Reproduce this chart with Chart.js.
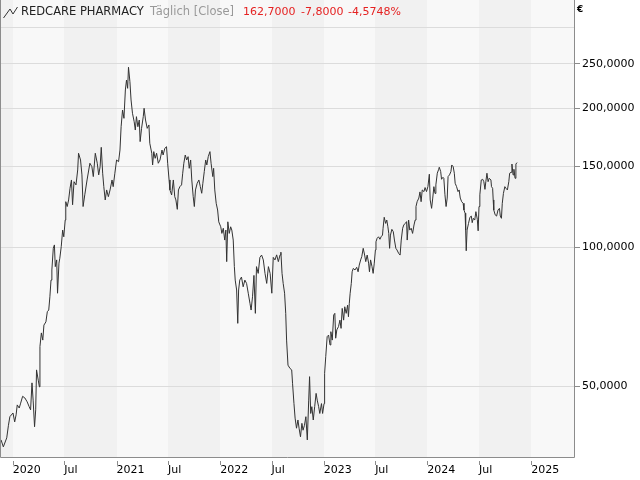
<!DOCTYPE html>
<html>
<head>
<meta charset="utf-8">
<script src="https://cdn.jsdelivr.net/npm/chart.js@4.4.1/dist/chart.umd.min.js"></script>
<style>
  body { margin: 0; background: #fff; }
  canvas { display: block; }
</style>
</head>
<body>
<canvas id="myChart" width="640" height="480"></canvas>
<script>
// daily closes (EUR)
const dates = [
  '2019-11-21','2019-11-29','2019-12-11','2019-12-17','2019-12-22','2020-01-02','2020-01-08','2020-01-13',
  '2020-01-17','2020-01-24','2020-01-29','2020-02-05','2020-02-13','2020-02-21','2020-02-28','2020-03-04',
  '2020-03-09','2020-03-13','2020-03-18','2020-03-22','2020-03-25','2020-03-31','2020-04-04','2020-04-06',
  '2020-04-11','2020-04-16','2020-04-20','2020-04-27','2020-05-02','2020-05-07','2020-05-11','2020-05-15',
  '2020-05-18','2020-05-23','2020-05-27','2020-05-30','2020-06-04','2020-06-07','2020-06-12','2020-06-15',
  '2020-06-20','2020-06-25','2020-06-29','2020-07-04','2020-07-06','2020-07-11','2020-07-16','2020-07-21',
  '2020-07-26','2020-07-30','2020-08-04','2020-08-11','2020-08-17','2020-08-20','2020-08-27','2020-09-01',
  '2020-09-05','2020-09-11','2020-09-19','2020-09-29','2020-10-06','2020-10-11','2020-10-18','2020-10-25',
  '2020-10-30','2020-11-04','2020-11-08','2020-11-13','2020-11-17','2020-11-22','2020-11-27','2020-12-03',
  '2020-12-09','2020-12-16','2020-12-20','2020-12-26','2021-01-01','2021-01-08','2021-01-13','2021-01-17',
  '2021-01-22','2021-01-27','2021-02-01','2021-02-05','2021-02-09','2021-02-12','2021-02-17','2021-02-21',
  '2021-02-26','2021-03-04','2021-03-08','2021-03-12','2021-03-17','2021-03-22','2021-03-25','2021-03-30',
  '2021-04-05','2021-04-08','2021-04-13','2021-04-19','2021-04-25','2021-04-28','2021-05-05','2021-05-08',
  '2021-05-12','2021-05-17','2021-05-22','2021-05-28','2021-06-03','2021-06-10','2021-06-14','2021-06-20',
  '2021-06-26','2021-06-30','2021-07-05','2021-07-08','2021-07-14','2021-07-20','2021-07-25','2021-07-29',
  '2021-08-03','2021-08-07','2021-08-12','2021-08-18','2021-08-22','2021-08-26','2021-08-31','2021-09-05',
  '2021-09-10','2021-09-14','2021-09-19','2021-09-23','2021-09-28','2021-10-02','2021-10-06','2021-10-12',
  '2021-10-18','2021-10-23','2021-10-28','2021-11-01','2021-11-06','2021-11-11','2021-11-15','2021-11-20',
  '2021-11-26','2021-11-30','2021-12-06','2021-12-09','2021-12-13','2021-12-18','2021-12-23','2021-12-27',
  '2022-01-03','2022-01-07','2022-01-12','2022-01-17','2022-01-21','2022-01-24','2022-01-28','2022-02-02',
  '2022-02-07','2022-02-11','2022-02-16','2022-02-20','2022-02-23','2022-02-28','2022-03-04','2022-03-07',
  '2022-03-11','2022-03-17','2022-03-23','2022-03-29','2022-04-04','2022-04-10','2022-04-16','2022-04-20',
  '2022-04-25','2022-04-30','2022-05-05','2022-05-09','2022-05-15','2022-05-21','2022-05-27','2022-06-02',
  '2022-06-08','2022-06-14','2022-06-20','2022-06-26','2022-07-02','2022-07-07','2022-07-13','2022-07-19',
  '2022-07-25','2022-07-31','2022-08-03','2022-08-07','2022-08-11','2022-08-16','2022-08-20','2022-08-23',
  '2022-08-28','2022-09-04','2022-09-10','2022-09-13','2022-09-18','2022-09-22','2022-09-27','2022-10-02',
  '2022-10-06','2022-10-11','2022-10-16','2022-10-20','2022-10-25','2022-10-30','2022-11-04','2022-11-09',
  '2022-11-12','2022-11-16','2022-11-20','2022-11-25','2022-11-30','2022-12-05','2022-12-09','2022-12-14',
  '2022-12-18','2022-12-24','2022-12-28','2023-01-02','2023-01-04','2023-01-08','2023-01-13','2023-01-18',
  '2023-01-23','2023-01-26','2023-01-31','2023-02-05','2023-02-09','2023-02-12','2023-02-16','2023-02-22',
  '2023-02-27','2023-03-03','2023-03-07','2023-03-12','2023-03-16','2023-03-21','2023-03-26','2023-03-29',
  '2023-04-01','2023-04-04','2023-04-08','2023-04-11','2023-04-15','2023-04-21','2023-04-27','2023-05-02',
  '2023-05-06','2023-05-11','2023-05-15','2023-05-20','2023-05-25','2023-05-29','2023-06-03','2023-06-08',
  '2023-06-11','2023-06-15','2023-06-20','2023-06-24','2023-06-28','2023-07-02','2023-07-04','2023-07-08',
  '2023-07-13','2023-07-18','2023-07-22','2023-07-27','2023-07-29','2023-08-02','2023-08-07','2023-08-11',
  '2023-08-15','2023-08-18','2023-08-21','2023-08-24','2023-08-29','2023-09-03','2023-09-07','2023-09-12',
  '2023-09-16','2023-09-22','2023-09-27','2023-10-01','2023-10-06','2023-10-10','2023-10-15','2023-10-20',
  '2023-10-22','2023-10-27','2023-10-31','2023-11-05','2023-11-10','2023-11-15','2023-11-19','2023-11-22',
  '2023-11-26','2023-12-02','2023-12-06','2023-12-10','2023-12-14','2023-12-20','2023-12-24','2023-12-29',
  '2024-01-03','2024-01-08','2024-01-11','2024-01-16','2024-01-20','2024-01-24','2024-01-28','2024-01-31',
  '2024-02-05','2024-02-10','2024-02-12','2024-02-17','2024-02-20','2024-02-25','2024-02-28','2024-03-03',
  '2024-03-07','2024-03-11','2024-03-14','2024-03-19','2024-03-24','2024-03-27','2024-04-01','2024-04-05',
  '2024-04-08','2024-04-13','2024-04-18','2024-04-22','2024-04-26','2024-05-01','2024-05-06','2024-05-09',
  '2024-05-13','2024-05-15','2024-05-17','2024-05-20','2024-05-25','2024-05-30','2024-06-04','2024-06-07',
  '2024-06-11','2024-06-16','2024-06-20','2024-06-25','2024-06-28','2024-07-01','2024-07-04','2024-07-09',
  '2024-07-14','2024-07-18','2024-07-22','2024-07-25','2024-07-29','2024-08-02','2024-08-06','2024-08-12',
  '2024-08-14','2024-08-18','2024-08-20','2024-08-22','2024-08-27','2024-09-01','2024-09-06','2024-09-11',
  '2024-09-14','2024-09-18','2024-09-21','2024-09-25','2024-09-30','2024-10-04','2024-10-09','2024-10-14',
  '2024-10-17','2024-10-22','2024-10-25','2024-10-29','2024-11-01','2024-11-05','2024-11-08','2024-11-12'
];
const closes = [
  38.2, 36.9, 38.6, 41.1, 42.9, 43.7, 41.8, 43.3,
  45.5, 44.8, 45.9, 47.5, 47.1, 46.2, 45.1, 44.4,
  50.8, 46.6, 40.8, 44.4, 54.2, 51.5, 49.8, 60.9,
  65.2, 62.9, 67.8, 68.9, 72.5, 73.1, 78.1, 84.9,
  89.3, 99.5, 101.2, 90.8, 93.9, 79.5, 92.4, 94.7,
  100.3, 109.0, 105.4, 114.6, 125.6, 122.6, 126.7, 134.3,
  140.0, 123.7, 138.8, 136.6, 147.2, 160.0, 154.7, 143.6,
  122.6, 130.0, 140.0, 152.2, 149.6, 142.4, 160.0, 152.2,
  143.6, 149.6, 164.8, 144.8, 135.4, 126.7, 133.2, 128.8,
  133.2, 140.0, 135.4, 144.8, 154.7, 153.4, 162.6, 182.7,
  198.6, 190.5, 219.5, 230.7, 221.3, 245.9, 228.8, 208.8,
  195.4, 187.3, 179.7, 192.1, 182.7, 188.9, 169.6, 181.2,
  192.1, 200.3, 188.9, 181.2, 184.3, 168.2, 160.0, 150.9,
  161.3, 156.0, 160.0, 152.2, 154.7, 162.6, 158.6, 164.0,
  165.3, 152.2, 140.0, 133.2, 129.9, 140.0, 128.8, 126.7,
  120.9, 133.2, 135.4, 136.6, 144.8, 152.2, 158.6, 154.7,
  157.3, 148.4, 154.7, 140.0, 128.8, 122.6, 133.2, 137.7,
  140.0, 135.4, 131.0, 137.7, 146.0, 154.7, 150.9, 157.3,
  161.3, 152.2, 142.4, 148.4, 133.2, 124.6, 120.5, 113.6,
  110.8, 107.2, 110.0, 103.7, 109.0, 93.1, 113.6, 107.2,
  110.8, 109.0, 103.7, 90.8, 84.9, 80.8, 68.4, 80.8,
  84.9, 86.2, 82.1, 84.9, 83.5, 79.5, 75.6, 73.1,
  78.1, 86.9, 71.9, 90.8, 87.8, 95.1, 96.2, 93.9,
  87.8, 83.5, 90.8, 87.8, 79.5, 95.1, 93.9, 96.3,
  93.1, 96.3, 97.6, 87.8, 83.5, 79.5, 71.9, 62.9,
  55.5, 54.6, 54.2, 50.7, 45.8, 42.6, 40.5, 42.2,
  40.5, 38.8, 41.5, 40.1, 41.1, 42.9, 38.2, 46.6,
  52.4, 43.6, 45.1, 42.2, 45.1, 48.2, 46.6, 45.1,
  43.6, 45.8, 43.6, 45.8, 53.3, 57.9, 64.0, 64.5,
  61.4, 65.6, 62.9, 71.3, 71.9, 63.5, 66.2, 67.3,
  69.5, 66.7, 73.7, 69.5, 74.3, 71.9, 74.9, 70.7,
  75.6, 79.5, 83.5, 88.5, 90.0, 89.3, 90.5, 88.5,
  91.5, 93.9, 95.5, 99.5, 96.2, 93.1, 96.2, 92.4,
  88.5, 93.9, 90.8, 87.8, 92.4, 98.7, 102.8, 104.6,
  105.4, 104.1, 105.4, 106.3, 110.0, 116.2, 112.7, 114.6,
  110.8, 107.2, 99.5, 106.3, 109.4, 108.1, 103.7, 99.5,
  98.7, 97.0, 96.2, 103.7, 110.0, 111.8, 112.7, 113.7,
  103.7, 114.6, 109.0, 110.0, 107.2, 111.8, 114.6, 122.6,
  125.6, 127.9, 131.9, 125.6, 133.2, 132.1, 134.8, 132.1,
  135.4, 144.1, 126.7, 121.5, 127.9, 135.4, 130.9, 136.6,
  144.8, 147.7, 149.2, 146.0, 140.5, 141.9, 141.2, 130.0,
  122.6, 127.9, 142.4, 143.6, 146.0, 150.9, 149.6, 144.8,
  137.7, 135.4, 132.1, 133.2, 127.9, 125.6, 124.6, 120.5,
  118.6, 109.0, 98.3, 109.0, 112.7, 116.2, 116.9, 113.1,
  115.6, 114.6, 119.5, 115.0, 108.6, 122.6, 130.0, 140.0,
  140.5, 138.8, 133.6, 138.8, 144.8, 138.8, 141.2, 140.0,
  135.4, 134.3, 126.7, 120.5, 117.6, 116.9, 120.5, 121.5,
  116.9, 115.6, 124.6, 130.9, 135.4, 134.3, 133.2, 138.8,
  144.8, 145.5, 151.6, 143.6, 147.7, 141.2, 151.6, 152.7
];

const xTickDates = ['2020-01-01', '2020-07-01', '2021-01-01', '2021-07-01', '2022-01-01', '2022-07-01',
  '2023-01-01', '2023-07-01', '2024-01-01', '2024-07-01', '2025-01-01'];
const xTickLabels = ['2020', 'Jul', '2021', 'Jul', '2022', 'Jul', '2023', 'Jul', '2024', 'Jul', '2025'];
const yTickValues = [50, 100, 150, 200, 250, 300];
const yLabeledMax = 250;

const title = 'REDCARE PHARMACY';
const subtitle = 'Täglich [Close]';
const quote = ['162,7000', '-7,8000', '-4,5748%'];

const FONT = '"DejaVu Sans"';
const FRAME_COLOR = '#8c8c8c';
Chart.defaults.font.family = FONT;

// alternating half-year bands, frame, header and x tick marks
const decorations = {
  id: 'decorations',
  beforeDraw(chart) {
    const { ctx, chartArea: a, scales: { x } } = chart;
    ctx.save();
    ctx.fillStyle = '#f8f8f8';
    ctx.fillRect(a.left, a.top, a.right - a.left, a.bottom - a.top);
    ctx.fillStyle = '#f1f1f1';
    const edges = [x.min, ...xTickDates.map(d => Date.parse(d)), x.max];
    for (let i = 0; i < edges.length - 1; i += 2) {
      const x0 = Math.round(x.getPixelForValue(edges[i]));
      const x1 = Math.round(x.getPixelForValue(edges[i + 1]));
      ctx.fillRect(x0, a.top, x1 - x0, a.bottom - a.top);
    }
    ctx.restore();
  },
  afterDraw(chart) {
    const { ctx, chartArea: a, scales: { x } } = chart;
    ctx.save();
    ctx.strokeStyle = FRAME_COLOR;
    ctx.lineWidth = 1;
    ctx.beginPath();
    ctx.moveTo(a.left + 0.5, a.top);
    ctx.lineTo(a.left + 0.5, a.bottom - 0.5);
    ctx.lineTo(a.right + 0.5, a.bottom - 0.5);
    ctx.lineTo(a.right + 0.5, a.top);
    // x tick marks, just under the frame
    x.ticks.forEach(t => {
      const px = Math.round(x.getPixelForValue(t.value)) + 0.5;
      ctx.moveTo(px, a.bottom + 3);
      ctx.lineTo(px, a.bottom + 7);
    });
    ctx.stroke();

    // little line-chart icon
    ctx.strokeStyle = '#333';
    ctx.beginPath();
    ctx.moveTo(3.5, 18);
    ctx.lineTo(10, 9);
    ctx.lineTo(13, 14);
    ctx.lineTo(17.5, 7);
    ctx.stroke();

    ctx.textBaseline = 'middle';
    ctx.font = '11.5px ' + FONT;
    ctx.fillStyle = '#222';
    ctx.fillText(title, 21, 12);
    ctx.fillStyle = '#999';
    ctx.fillText(subtitle, 150, 12);
    ctx.font = '11px ' + FONT;
    ctx.fillStyle = '#e52222';
    ctx.fillText(quote[0], 243, 12);
    ctx.fillText(quote[1], 301, 12);
    ctx.fillText(quote[2], 348, 12);

    ctx.fillStyle = '#000';
    ctx.font = 'bold 9px ' + FONT;
    ctx.fillText('€', 577, 10);
    ctx.restore();
  }
};

new Chart(document.getElementById('myChart').getContext('2d'), {
  type: 'line',
  data: {
    datasets: [{
      label: title,
      data: dates.map((d, i) => ({ x: Date.parse(d), y: closes[i] })),
      borderColor: '#333',
      borderWidth: 1,
      pointRadius: 0,
      tension: 0,
      fill: false
    }]
  },
  plugins: [decorations],
  options: {
    responsive: false,
    animation: false,
    layout: { padding: 0 },
    plugins: { legend: { display: false }, tooltip: { enabled: false } },
    scales: {
      x: {
        type: 'linear',
        min: Date.parse('2019-11-17T06:00:00Z'),
        max: Date.parse('2025-05-31T17:00:00Z'),
        afterBuildTicks: s => { s.ticks = xTickDates.map(d => ({ value: Date.parse(d) })); },
        afterFit: s => { s.height = 22; s.paddingLeft = 0; s.paddingRight = 0; },
        grid: { display: false, drawTicks: false },
        border: { display: false },
        ticks: {
          autoSkip: false,
          maxRotation: 0,
          align: 'start',
          padding: 6,
          color: '#000',
          font: { size: 11 },
          callback: (v, i) => xTickLabels[i]
        }
      },
      y: {
        type: 'logarithmic',
        position: 'right',
        min: 34.9,
        max: 344.1,
        afterBuildTicks: s => { s.ticks = yTickValues.map(v => ({ value: v })); },
        afterFit: s => { s.width = 66; s.paddingTop = 0; s.paddingBottom = 0; },
        grid: {
          color: '#dcdcdc',
          tickLength: 6,
          tickColor: c => (c.tick && c.tick.value > yLabeledMax) ? 'rgba(0,0,0,0)' : FRAME_COLOR
        },
        border: { display: false },
        ticks: {
          padding: 2,
          color: '#000',
          font: { size: 11 },
          callback: v => v > yLabeledMax ? '' : v.toFixed(4).replace('.', ',')
        }
      }
    }
  }
});
</script>
</body>
</html>
